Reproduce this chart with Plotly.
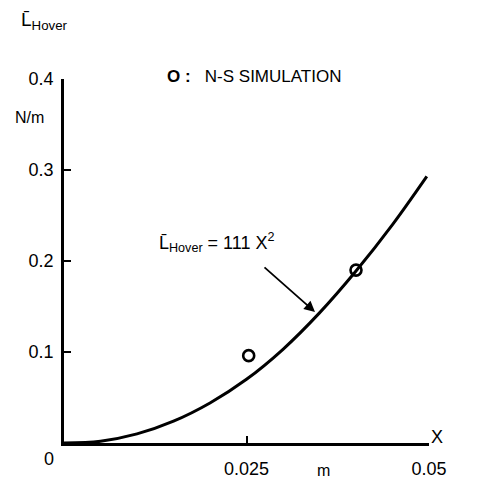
import plotly.graph_objects as go

# ---- data ----
curve_x = [0.0, 0.005, 0.010, 0.015, 0.020, 0.025, 0.030, 0.035, 0.040, 0.045, 0.0497]
curve_y = [0.0, 0.002, 0.010, 0.024, 0.044, 0.070, 0.103, 0.143, 0.189, 0.240, 0.293]
sim_x = [0.0253, 0.0400]
sim_y = [0.096, 0.190]
x_ticks = [0.025, 0.05]
x_ticktext = ["0.025", "0.05"]
y_ticks = [0.1, 0.2, 0.3, 0.4]
y_ticktext = ["0.1", "0.2", "0.3", "0.4"]

W, H = 477, 481
L, R, T, B = 64, 48, 79, 38
X0, X1, Y0, Y1 = 0.0, 0.05, 0.0, 0.4
FONT = "Liberation Sans, Arial, sans-serif"

def dx(px):
    return X0 + (px - L) / (W - L - R) * (X1 - X0)

def dy(py):
    return Y0 + (H - B - py) / (H - T - B) * (Y1 - Y0)

def px_(px):
    return (px - L) / (W - L - R)

def py_(py):
    return (H - B - py) / (H - T - B)

fig = go.Figure()
fig.add_trace(go.Scatter(x=curve_x, y=curve_y, mode="lines",
                         line=dict(color="black", width=3, shape="spline", smoothing=1.0),
                         hoverinfo="skip", showlegend=False, cliponaxis=False))
fig.add_trace(go.Scatter(x=sim_x, y=sim_y, mode="markers",
                         marker=dict(symbol="circle-open", size=11, color="black",
                                     line=dict(width=2.6, color="black")),
                         showlegend=False, cliponaxis=False))

paper_ann = [
    dict(x=px_(19), y=py_(21), text="L\u0304<sub>Hover</sub>", xanchor="left", yanchor="middle",
         font=dict(size=19)),
    dict(x=px_(29), y=py_(118), text="N/m", xanchor="center", yanchor="middle", font=dict(size=16)),
    dict(x=px_(49), y=py_(459), text="0", xanchor="center", yanchor="middle", font=dict(size=18)),
    dict(x=px_(437), y=py_(437), text="X", xanchor="center", yanchor="middle", font=dict(size=18)),
    dict(x=px_(323), y=py_(470), text="m", xanchor="center", yanchor="middle", font=dict(size=16)),
    dict(x=px_(165), y=py_(76), text="<b>O</b> <b>:</b>   N-S SIMULATION", xanchor="left",
         yanchor="middle", font=dict(size=17)),
    dict(x=px_(157), y=py_(243), text="L\u0304<sub>Hover</sub> = 111 X<sup>2</sup>", xanchor="left",
         yanchor="middle", font=dict(size=18)),
]
for a in paper_ann:
    a["showarrow"] = False
    a["xref"] = "paper"
    a["yref"] = "paper"
    a["font"].update(family=FONT, color="black")

arrow = dict(x=dx(315), y=dy(312), ax=dx(263), ay=dy(266), axref="x", ayref="y",
             xref="x", yref="y", text="", showarrow=True, arrowhead=2, arrowsize=1.2,
             arrowwidth=1.8, arrowcolor="black")

fig.update_layout(
    width=W, height=H,
    margin=dict(l=L, r=R, t=T, b=B, autoexpand=False),
    paper_bgcolor="white", plot_bgcolor="white",
    font=dict(family=FONT, color="black"),
    annotations=paper_ann + [arrow],
    xaxis=dict(range=[X0, X1], showgrid=False, zeroline=False, showline=True, automargin=False,
               linecolor="black", linewidth=2.5, ticks="inside", ticklen=7, tickwidth=2,
               tickcolor="black", tickvals=x_ticks, ticktext=x_ticktext,
               tickfont=dict(size=18, family=FONT, color="black"), ticklabelstandoff=8),
    yaxis=dict(range=[Y0, Y1], showgrid=False, zeroline=False, showline=True, automargin=False,
               linecolor="black", linewidth=2.5, ticks="inside", ticklen=7, tickwidth=2,
               tickcolor="black", tickvals=y_ticks, ticktext=y_ticktext,
               tickfont=dict(size=18, family=FONT, color="black"), ticklabelstandoff=4),
)
fig.write_html("out.html")
